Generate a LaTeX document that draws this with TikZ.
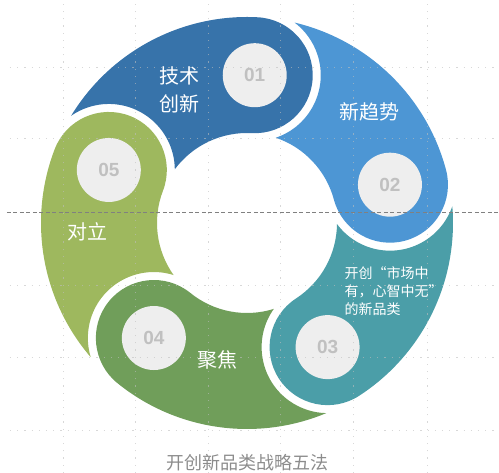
\documentclass[tikz,border=0pt]{standalone}
\usepackage{fontspec}
\setmainfont{Liberation Sans}
\newfontfamily\cjk{Noto Sans CJK SC}
\usepackage{xcolor}
\usetikzlibrary{positioning}
\definecolor{segone}{RGB}{55,115,170}
\definecolor{segtwo}{RGB}{77,150,212}
\definecolor{segthree}{RGB}{75,158,168}
\definecolor{segfour}{RGB}{112,158,90}
\definecolor{segfive}{RGB}{158,184,94}
\definecolor{diskfill}{RGB}{238,238,238}
\definecolor{numgray}{RGB}{192,192,192}
\definecolor{gridgray}{RGB}{190,190,190}
\definecolor{titlegray}{RGB}{140,140,140}
\tikzset{
    numdisk/.style={
        circle,
        fill=diskfill,
        minimum size=64pt,
        inner sep=0pt,
        text=numgray,
        font=\bfseries\fontsize{19}{19}\selectfont
    },
    steplabel/.style={
        text=white,
        align=center,
        font=\cjk\fontsize{20}{28}\selectfont
    },
    smalllabel/.style={
        text=white,
        align=left,
        font=\cjk\fontsize{14}{18}\selectfont
    },
    gridline/.style={
        draw=gridgray,
        opacity=0.6,
        line width=0.8pt,
        dash pattern=on 1.2pt off 6pt
    },
    midline/.style={
        draw=gray,
        line width=0.7pt,
        dash pattern=on 4pt off 2.5pt
    }
}

\begin{document}
\begin{tikzpicture}[x=1pt, y=1pt]
\useasboundingbox (-247,-250) rectangle (252,223);

% Five comma-shaped segments
\foreach \a/\col in {87/segone, 15/segtwo, -57/segthree, -129/segfour, -201/segfive}{
    \fill[\col] ({\a+72-10.35}:206pt)
        arc[start angle={\a+72-10.35}, end angle=\a, radius=206pt]
        arc[start angle=\a, end angle={\a-180}, radius=58pt]
        arc[start angle=\a, end angle={\a+72-15.66}, radius=90pt]
        arc[start angle={\a+72-158.4}, end angle={\a+72-34.11}, radius=66pt]
        -- cycle;
}

% Number disks
\foreach \a/\n in {87/1, 15/2, -57/3, -129/4, -201/5}{
    \node[numdisk] (num\n) at (\a:148pt) {0\n};
}

% Labels
\node[steplabel] (tech) at (-67,133) {技术\\创新};
\node[steplabel] (trend) at (123,111) {新趋势};
\node[smalllabel, anchor=west] (newcat) at (94,-68) {开创“市场中\\有，心智中无”\\的新品类};
\node[steplabel] (focus) at (-29,-137) {聚焦};
\node[steplabel] (oppose) at (-159,-9) {对立};

% Background grid
\foreach \x in {-184,-112,-39,33,106,180}{
    \draw[gridline] (\x,-250) -- (\x,223);
}
\foreach \y in {156,85,-62,-134,-207}{
    \draw[gridline] (-237,\y) -- (252,\y);
}
\draw[midline] (-240,11) -- (252,11);

% Title
\node[text=titlegray, font=\cjk\fontsize{18}{18}\selectfont] (title) at (1,-240) {开创新品类战略五法};

\end{tikzpicture}
\end{document}
